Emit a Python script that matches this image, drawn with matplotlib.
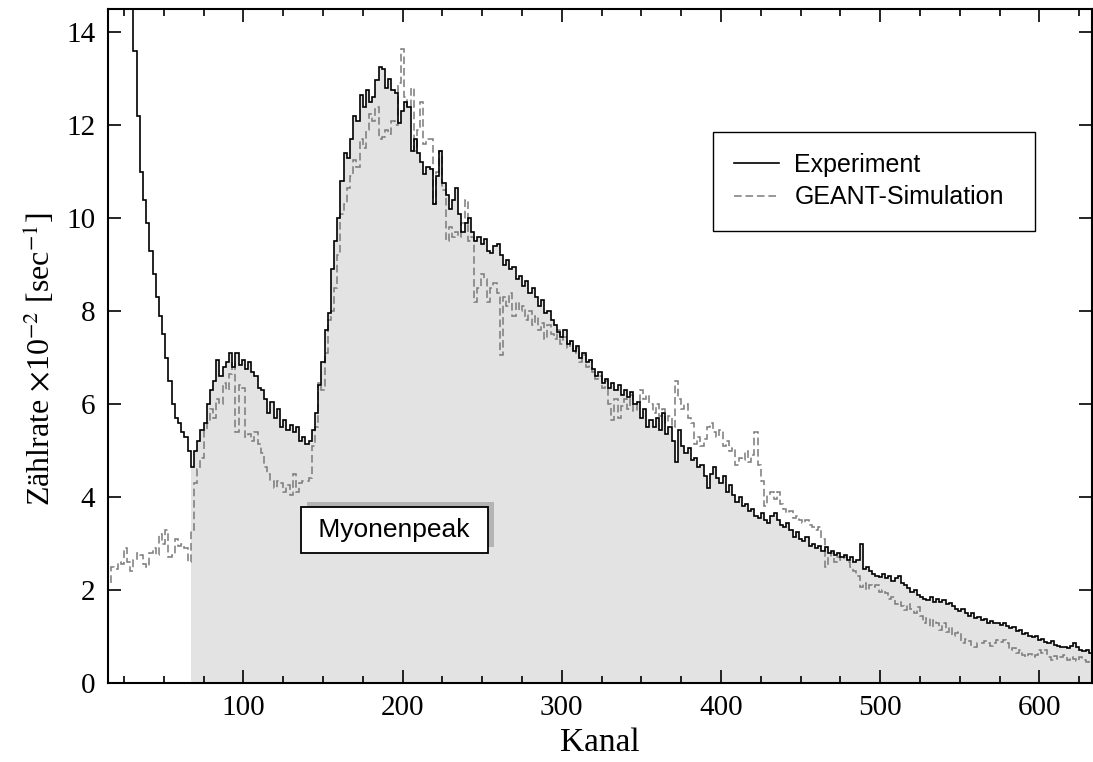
import numpy as np
import matplotlib
matplotlib.use("Agg")
import matplotlib.pyplot as plt
from matplotlib.ticker import MultipleLocator
from matplotlib.lines import Line2D
import matplotlib.patheffects as pe

# channel bins (2 channels wide), centres 16..632
bin_start = 15
bin_stop = 633
bin_width = 2

experiment = [
    24, 22, 20.5, 19, 17.8, 16.7, 15.7, 14.8, 13.6, 12.2,
    11.0, 10.4, 9.9, 9.3, 8.8, 8.3, 7.9, 7.5, 7.0, 6.5,
    6.0, 5.7, 5.6, 5.4, 5.3, 5.0, 4.65, 5.0, 5.2, 5.45,
    5.6, 6.0, 6.3, 6.5, 6.95, 6.6, 6.8, 6.9, 7.1, 6.8,
    7.1, 6.85, 6.95, 6.75, 6.9, 6.7, 6.6, 6.35, 6.3, 6.1,
    5.8, 6.05, 5.7, 5.9, 5.5, 5.65, 5.45, 5.55, 5.4, 5.5,
    5.2, 5.3, 5.15, 5.2, 5.45, 5.8, 6.4, 6.9, 7.6, 7.95,
    8.9, 9.5, 10.0, 10.8, 11.4, 11.3, 11.7, 12.2, 12.1, 12.65,
    12.4, 12.75, 12.5, 12.6, 12.97, 13.25, 13.2, 12.8, 13.0, 12.75,
    12.7, 12.05, 12.3, 12.5, 12.4, 11.45, 11.7, 11.4, 11.2, 10.95,
    11.1, 11.05, 10.3, 10.9, 11.45, 10.75, 10.5, 10.2, 10.4, 10.65,
    10.1, 9.7, 9.9, 10.0, 9.7, 9.5, 9.6, 9.45, 9.55, 9.3,
    9.25, 9.4, 9.45, 9.2, 9.0, 9.1, 8.9, 8.95, 8.7, 8.75,
    8.55, 8.65, 8.4, 8.5, 8.3, 8.1, 8.25, 7.95, 8.0, 7.8,
    7.7, 7.55, 7.45, 7.6, 7.3, 7.35, 7.15, 7.25, 7.0, 7.1,
    6.9, 6.95, 6.75, 6.6, 6.7, 6.45, 6.55, 6.35, 6.45, 6.3,
    6.4, 6.2, 6.3, 6.15, 6.25, 6.0, 6.05, 5.7, 5.9, 5.5,
    5.65, 5.5, 5.7, 5.45, 5.8, 5.35, 5.5, 5.2, 4.75, 5.45,
    5.1, 4.95, 5.05, 4.8, 4.85, 4.65, 4.7, 4.45, 4.2, 4.5,
    4.65, 4.4, 4.3, 4.45, 4.1, 4.25, 4.05, 3.9, 4.0, 3.8,
    3.85, 3.7, 3.75, 3.6, 3.55, 3.65, 3.5, 3.45, 3.6, 3.65,
    3.5, 3.4, 3.35, 3.45, 3.3, 3.15, 3.25, 3.1, 3.05, 3.15,
    2.95, 3.0, 2.9, 2.95, 2.85, 2.93, 2.8, 2.85, 2.75, 2.8,
    2.7, 2.75, 2.65, 2.7, 2.6, 2.65, 3.0, 2.45, 2.5, 2.4,
    2.35, 2.3, 2.28, 2.35, 2.25, 2.3, 2.2, 2.25, 2.3, 2.15,
    2.1, 2.05, 1.95, 2.0, 1.9, 1.85, 1.8, 1.78, 1.85, 1.75,
    1.8, 1.75, 1.78, 1.7, 1.72, 1.65, 1.6, 1.55, 1.6, 1.5,
    1.45, 1.5, 1.4, 1.42, 1.35, 1.38, 1.3, 1.33, 1.28, 1.3,
    1.25, 1.3, 1.22, 1.18, 1.2, 1.12, 1.15, 1.05, 1.08, 1.0,
    0.98, 1.0, 0.92, 0.95, 0.88, 0.86, 0.9, 0.82, 0.8, 0.78,
    0.77, 0.75, 0.8, 0.86, 0.78, 0.72, 0.68, 0.7, 0.65,
]

simulation = [
    2.15, 2.5, 2.45, 2.6, 2.55, 2.9, 2.6, 2.4, 2.65, 2.8,
    2.75, 2.55, 2.5, 2.8, 2.9, 2.75, 3.2, 3.0, 3.3, 2.7,
    2.75, 3.1, 2.95, 3.0, 2.9, 2.6, 3.3, 4.3, 4.6, 4.85,
    5.45, 5.6, 5.9, 5.7, 6.1, 6.0, 6.45, 6.3, 6.65, 6.9,
    5.4, 6.4, 6.35, 5.3, 5.35, 5.2, 5.4, 5.15, 4.95, 4.65,
    4.5, 4.35, 4.2, 4.35, 4.3, 4.1, 4.25, 4.05, 4.5, 4.1,
    4.3, 4.35, 4.35, 4.4, 5.1, 5.5, 6.45, 6.3, 7.1, 7.8,
    8.0, 8.5, 9.2, 10.1, 10.3, 10.65, 10.9, 11.25, 11.1, 11.7,
    11.5, 11.9, 12.25, 12.1, 12.4, 11.7, 11.75, 11.9, 11.8, 12.1,
    12.0, 12.9, 13.65, 12.6, 12.4, 12.8, 11.45, 11.9, 12.5, 11.6,
    11.7, 11.7, 10.3, 11.0, 11.45, 10.6, 9.5, 9.8, 9.6, 9.7,
    9.6, 9.9, 10.4, 9.5, 9.6, 8.2, 8.5, 8.8, 8.7, 8.2,
    8.5, 8.6, 8.4, 7.05, 8.3, 8.1, 8.4, 7.9, 8.2, 8.0,
    8.1, 7.8, 8.0, 7.7, 7.9, 7.6, 7.75, 7.4, 7.7, 7.5,
    7.4, 7.6, 7.3, 7.45, 7.2, 7.35, 7.1, 7.2, 6.9, 7.05,
    6.8, 6.95, 6.7, 6.55, 6.6, 6.35, 6.5, 6.0, 5.65, 6.1,
    5.7, 5.95, 6.1, 5.9, 6.2, 5.85, 6.05, 6.3, 6.1, 6.2,
    6.0, 5.8, 6.0, 5.75, 5.9, 5.6, 5.75, 5.5, 6.5, 6.1,
    5.9, 6.0, 5.7, 5.6, 5.15, 5.3, 5.1, 5.25, 5.5, 5.6,
    5.4, 5.3, 5.45, 5.1, 5.2, 5.0, 5.05, 4.7, 4.85, 4.8,
    5.0, 4.75, 4.9, 5.4, 4.7, 4.35, 3.8, 4.05, 4.1, 3.95,
    4.1, 3.85, 3.75, 3.65, 3.7, 3.55, 3.6, 3.5, 3.45, 3.5,
    3.4, 3.35, 3.3, 3.35, 3.1, 2.5, 2.7, 2.8, 2.6, 2.7,
    2.65, 2.7, 2.6, 2.5, 2.4, 2.3, 2.07, 2.15, 2.0, 2.1,
    2.07, 2.1, 1.95, 2.0, 1.94, 1.8, 1.85, 1.7, 1.75, 1.65,
    1.57, 1.7, 1.6, 1.5, 1.63, 1.45, 1.3, 1.4, 1.2, 1.35,
    1.29, 1.15, 1.3, 1.1, 1.2, 1.0, 1.08, 1.1, 0.86, 0.95,
    0.9, 0.8, 0.77, 0.85, 0.86, 0.9, 0.86, 0.8, 0.86, 0.92,
    0.88, 0.92, 0.85, 0.71, 0.75, 0.65, 0.7, 0.6, 0.56, 0.62,
    0.56, 0.6, 0.71, 0.65, 0.7, 0.55, 0.5, 0.58, 0.52, 0.56,
    0.6, 0.5, 0.56, 0.52, 0.48, 0.55, 0.5, 0.45, 0.5,
]

fill_from_channel = 67
x_ticks = [100, 200, 300, 400, 500, 600]
y_ticks = [0, 2, 4, 6, 8, 10, 12, 14]
xlabel = "Kanal"
ylabel = r"Zählrate $\times$10$^{-2}$ [sec$^{-1}$]"
legend_labels = ["Experiment", "GEANT-Simulation"]
annotation = "Myonenpeak"

plt.rcParams["mathtext.fontset"] = "stix"
serif = ["Liberation Serif", "DejaVu Serif"]
sans = ["Liberation Sans", "DejaVu Sans"]

edges = np.arange(bin_start, bin_stop + 1, bin_width)
exp = np.array(experiment)
sim = np.array(simulation)

fig = plt.figure(figsize=(10.93, 7.62), dpi=100)
ax = fig.add_axes([0.0988, 0.1037, 0.9003, 0.8845])

i0 = int(np.searchsorted(edges, fill_from_channel))
ax.stairs(exp[i0:], edges[i0:], fill=True, color="#e3e3e3", lw=0, zorder=1)
ax.stairs(sim, edges, color="#7a7a7a", lw=1.1, ls=(0, (5, 2.5)), zorder=2)
ax.stairs(exp, edges, color="black", lw=1.2, zorder=3)

ax.set_xlim(bin_start, bin_stop)
ax.set_ylim(0, 14.5)
ax.set_xticks(x_ticks)
ax.set_yticks(y_ticks)
ax.xaxis.set_minor_locator(MultipleLocator(25))
ax.tick_params(which="both", direction="in", top=True, right=True, width=1.2)
ax.tick_params(which="major", length=9.5, pad=9, labelsize=21)
ax.tick_params(which="minor", length=5)
for lab in ax.get_xticklabels() + ax.get_yticklabels():
    lab.set_family(serif)
for s in ax.spines.values():
    s.set_linewidth(1.5)

ax.set_xlabel(xlabel, fontsize=24, family=serif, labelpad=4)
ax.set_ylabel(ylabel, fontsize=23, family=serif, labelpad=6)
ax.yaxis.set_label_coords(-0.052, 0.48)

h1 = Line2D([], [], color="black", lw=1.2)
h2 = Line2D([], [], color="#7a7a7a", lw=1.1, ls=(0, (5, 2.5)))
leg = ax.legend([h1, h2], legend_labels, loc="upper left",
                bbox_to_anchor=(0.615, 0.8175, 0.327, 0.0), mode="expand",
                prop={"family": sans, "size": 18}, frameon=True, fancybox=False,
                framealpha=1, edgecolor="black", borderpad=0.85, labelspacing=0.33,
                handlelength=1.8, handletextpad=0.6, borderaxespad=0)
leg.get_frame().set_linewidth(1.0)

t = ax.text(0.2907, 0.227, " " + annotation + " ", transform=ax.transAxes,
            ha="center", va="center", fontsize=19, family=sans, zorder=5,
            bbox=dict(boxstyle="square,pad=0.4", fc="white", ec="black", lw=1.3))
t.get_bbox_patch().set_path_effects([
    pe.SimplePatchShadow(offset=(4.5, 4), shadow_rgbFace="#b4b4b4", alpha=1.0),
    pe.Normal()])

fig.savefig("out.png", dpi=100)
